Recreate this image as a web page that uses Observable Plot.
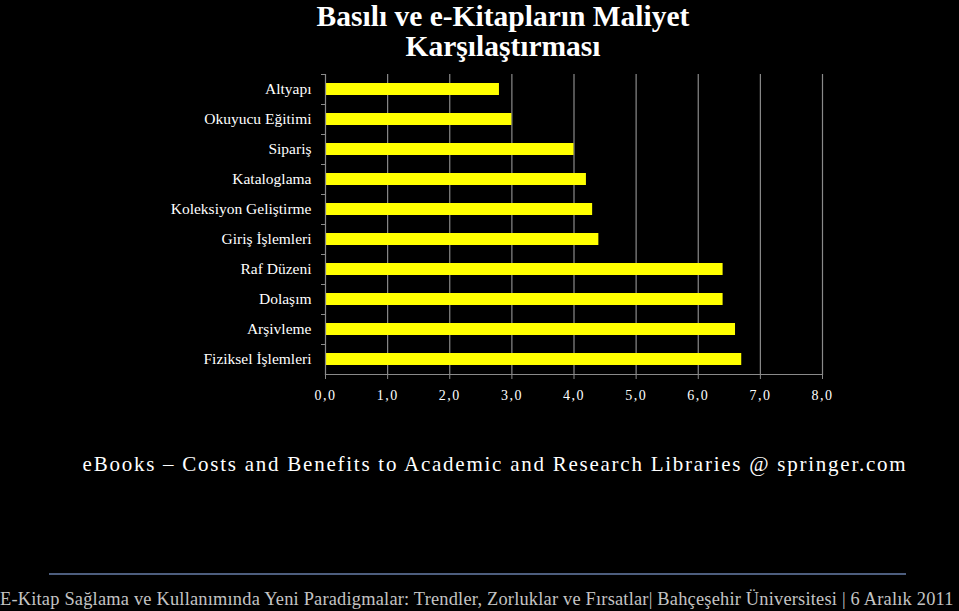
<!DOCTYPE html>
<html>
<head>
<meta charset="utf-8">
<script src="https://cdn.jsdelivr.net/npm/d3@7"></script>
<script src="https://cdn.jsdelivr.net/npm/@observablehq/plot@0.6"></script>
<style>
  html, body { margin: 0; padding: 0; background: #000; width: 959px; height: 611px; overflow: hidden; }
  body { position: relative; font-family: "Liberation Serif", "DejaVu Serif", serif; color: #fff; }
  #title { position: absolute; left: 0; top: 1px; width: 1006px; text-align: center; font-weight: bold; font-size: 29.5px; line-height: 30px; }
  #chart { position: absolute; left: 0; top: 60px; }
  #source { position: absolute; left: 0; top: 452px; width: 990px; text-align: center; font-size: 21px; letter-spacing: 1.75px; white-space: nowrap; }
  #rule { position: absolute; left: 49px; top: 573px; width: 857px; height: 2px; background: #4d5e7e; }
  #footer { position: absolute; left: 0; top: 589px; font-size: 18.4px; color: #c4c4c4; white-space: nowrap; letter-spacing: 0.2px; }
  #chart svg g[aria-label="x-axis tick label"] text { letter-spacing: 1.5px; }
</style>
</head>
<body>
<div id="title">Basılı ve e-Kitapların Maliyet<br>Karşılaştırması</div>
<div id="chart"></div>
<div id="source">eBooks – Costs and Benefits to Academic and Research Libraries @ springer.com</div>
<div id="rule"></div>
<div id="footer">E-Kitap Sağlama ve Kullanımında Yeni Paradigmalar: Trendler, Zorluklar ve Fırsatlar| Bahçeşehir Üniversitesi | 6 Aralık  2011</div>
<script>
const categories = ["Altyapı", "Okuyucu Eğitimi", "Sipariş", "Kataloglama", "Koleksiyon Geliştirme", "Giriş İşlemleri", "Raf Düzeni", "Dolaşım", "Arşivleme", "Fiziksel İşlemleri"];
const values = [2.8, 3.0, 4.0, 4.2, 4.3, 4.4, 6.4, 6.4, 6.6, 6.7];
const xTicks = [0, 1, 2, 3, 4, 5, 6, 7, 8];

const data = categories.map((c, i) => ({category: c, value: values[i]}));
const fmt = d => d.toFixed(1).replace(".", ",");

const chart = Plot.plot({
  width: 959,
  height: 350,
  marginTop: 14,
  marginBottom: 36,
  marginLeft: 325,
  marginRight: 137,
  style: {background: "transparent", color: "#fff", fontFamily: "'Liberation Serif', serif"},
  x: {domain: [0, 8], ticks: xTicks},
  y: {domain: categories, paddingInner: 0.6, paddingOuter: 0.3},
  marks: [
    Plot.gridX(xTicks.slice(1), {stroke: "#8a8a8a", strokeOpacity: 1, strokeWidth: 1.2}),
    Plot.barX(data, {x: "value", y: "category", fill: "#ffff00"}),
    Plot.axisY({tickSize: 0, tickPadding: 14, fontSize: 15.5, fill: "#fff", label: null}),
    Plot.axisY({tickSize: 4, text: null, dy: -15, stroke: "#8a8a8a", label: null}),
    Plot.frame({anchor: "left", stroke: "#8a8a8a", strokeWidth: 1.2}),
    Plot.frame({anchor: "bottom", stroke: "#8a8a8a", strokeWidth: 1.2}),
    Plot.axisX(xTicks, {tickSize: 5, tickPadding: 11, tickFormat: fmt, fontSize: 14, fill: "#fff", stroke: "#8a8a8a", label: null})
  ]
});
document.getElementById("chart").appendChild(chart);
</script>
</body>
</html>
